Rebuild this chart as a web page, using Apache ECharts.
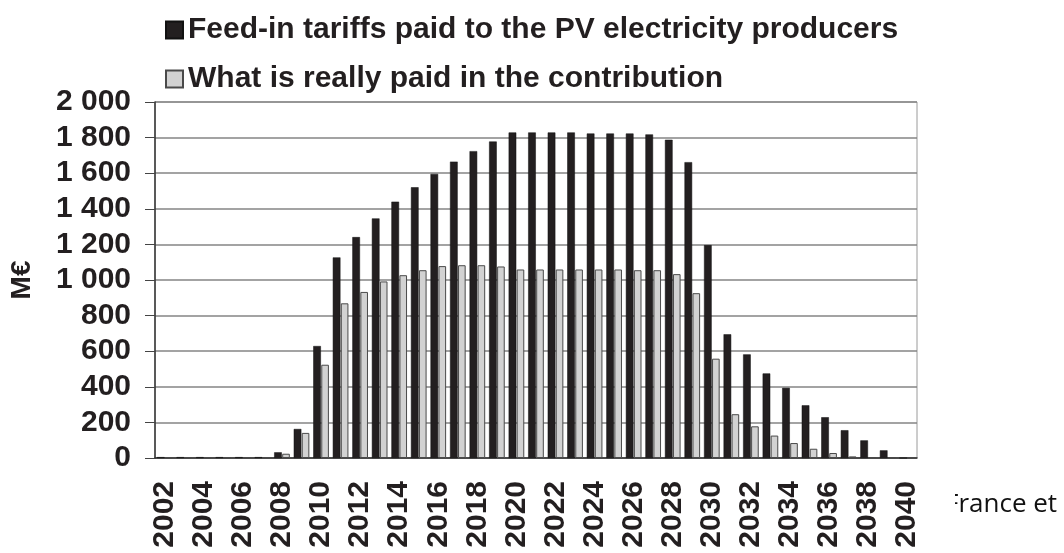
<!DOCTYPE html>
<html>
<head>
<meta charset="utf-8">
<script src="https://cdn.jsdelivr.net/npm/echarts@6/dist/echarts.min.js"></script>
<style>
  html, body { margin: 0; padding: 0; background: #fff; }
  #chart { width: 1064px; height: 553px; }
</style>
</head>
<body>
<div id="chart"></div>
<script>
// years on the x axis
const years = [
  "2002", "2003", "2004", "2005", "2006", "2007", "2008", "2009", "2010", "2011",
  "2012", "2013", "2014", "2015", "2016", "2017", "2018", "2019", "2020", "2021",
  "2022", "2023", "2024", "2025", "2026", "2027", "2028", "2029", "2030", "2031",
  "2032", "2033", "2034", "2035", "2036", "2037", "2038", "2039", "2040",
];
// M€ feed-in tariffs paid to producers (black)
const feedIn = [
  5, 5, 5, 5, 5, 5, 32, 163, 629, 1127,
  1241, 1346, 1440, 1521, 1596, 1665, 1724, 1778, 1829, 1829,
  1829, 1829, 1823, 1823, 1823, 1818, 1788, 1662, 1196, 695,
  582, 475, 394, 296, 229, 156, 99, 43, 0,
];
// M€ really paid in the contribution (grey)
const contribution = [
  4, 4, 4, 4, 4, 4, 24, 141, 524, 869,
  933, 992, 1027, 1055, 1078, 1083, 1083, 1076, 1059, 1059,
  1059, 1059, 1059, 1059, 1055, 1055, 1033, 926, 558, 246,
  178, 126, 84, 52, 28, 9, 3, 1, 0,
];
const yTicks = [0, 200, 400, 600, 800, 1000, 1200, 1400, 1600, 1800, 2000];

const seriesNames = [
  "Feed-in tariffs paid to the PV electricity producers",
  "What is really paid in the contribution",
];

const ink = "#231f20";
const font = "Liberation Sans, Arial, sans-serif";

function thousands(v) {
  if (v >= 1000) {
    return Math.floor(v / 1000) + " " + String(v % 1000).padStart(3, "0");
  }
  return String(v);
}

const chart = echarts.init(document.getElementById("chart"));
chart.setOption({
  animation: false,
  textStyle: { fontFamily: font },
  legend: {
    orient: "vertical",
    left: 160,
    top: 10,
    itemWidth: 17,
    itemHeight: 17,
    itemGap: 19,
    icon: "rect",
    textStyle: {
      fontSize: 30,
      fontWeight: "bold",
      color: ink,
      fontFamily: font,
    },
    data: seriesNames,
  },
  grid: {
    left: 155,
    right: 147,
    top: 102,
    bottom: 95,
    show: true,
    borderColor: "#9a9a9a",
    borderWidth: 1,
  },
  xAxis: {
    type: "category",
    data: years,
    axisLine: { lineStyle: { color: "#333", width: 1.5 } },
    axisTick: {
      interval: 0,
      length: 9,
      lineStyle: { color: "#444" },
    },
    axisLabel: {
      interval: 1,
      rotate: 90,
      margin: 23,
      fontSize: 30,
      fontWeight: "bold",
      color: ink,
      fontFamily: font,
    },
  },
  yAxis: {
    type: "value",
    min: yTicks[0],
    max: yTicks[yTicks.length - 1],
    interval: yTicks[1] - yTicks[0],
    name: "M€",
    nameLocation: "middle",
    nameGap: 119,
    nameTextStyle: {
      fontSize: 28,
      fontWeight: "bold",
      color: ink,
      fontFamily: font,
    },
    axisLine: { show: true, lineStyle: { color: "#333", width: 1.5 } },
    axisTick: { show: true, length: 10, lineStyle: { color: "#444" } },
    axisLabel: {
      margin: 24,
      fontSize: 30,
      fontWeight: "bold",
      color: ink,
      fontFamily: font,
      formatter: thousands,
    },
    splitLine: { lineStyle: { color: "#858585", width: 1.5 } },
  },
  series: [
    {
      name: seriesNames[0],
      type: "bar",
      data: feedIn,
      barGap: "5%",
      barCategoryGap: "20%",
      itemStyle: { color: ink, borderColor: "#111", borderWidth: 0.5 },
    },
    {
      name: seriesNames[1],
      type: "bar",
      data: contribution,
      itemStyle: { color: "#d2d2d2", borderColor: "#4a4a4a", borderWidth: 1 },
    },
  ],
  graphic: [
    {
      type: "text",
      left: 945,
      top: 492,
      z: 10,
      style: {
        text: "France et",
        fontSize: 26,
        fontFamily: "Open Sans, sans-serif",
        fill: "#111",
      },
    },
    {
      // the left edge of the source note is cut off in the original
      type: "rect",
      left: 936,
      top: 488,
      z: 11,
      shape: { width: 19, height: 36 },
      style: { fill: "#fff" },
    },
  ],
});
</script>
</body>
</html>
